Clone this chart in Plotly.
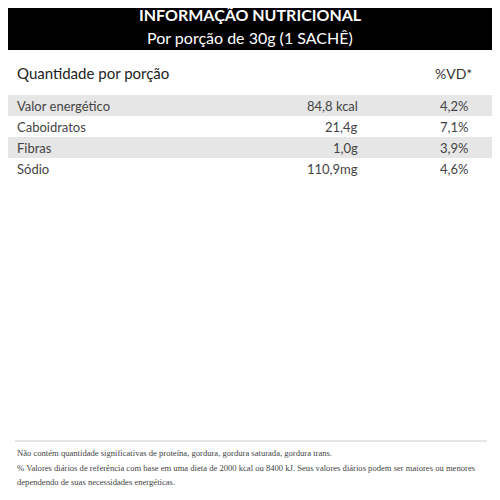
import plotly.graph_objects as go

title = "INFORMAÇÃO NUTRICIONAL"
subtitle = "Por porção de 30g (1 SACHÊ)"
header_left = "Quantidade por porção"
header_right = "%VD*"
nutrients = ["Valor energético", "Caboidratos", "Fibras", "Sódio"]
amounts = ["84,8 kcal", "21,4g", "1,0g", "110,9mg"]
vd = ["4,2%", "7,1%", "3,9%", "4,6%"]
footnotes = [
    "Não contém quantidade significativas de proteína, gordura, gordura saturada, gordura trans.",
    "% Valores diários de referência com base em uma dieta de 2000 kcal ou 8400 kJ. Seus valores diários podem ser maiores ou menores",
    "dependendo de suas necessidades energéticas.",
]

fig = go.Figure()
shapes = [dict(type="rect", x0=-10, x1=520, y0=-10, y1=50, fillcolor="black", line_width=0, layer="below")]
ann = []
F = "Lato"
ann.append(dict(x=250, y=14, text="<b>" + title + "</b>", font=dict(family=F, size=16, color="white")))
ann.append(dict(x=250, y=37, text=subtitle, font=dict(family=F, size=16, color="white")))
ann.append(dict(x=15, y=73, text=header_left, xanchor="left", font=dict(family=F, size=15, color="#222")))
ann.append(dict(x=474, y=73, text=header_right, xanchor="right", font=dict(family=F, size=14, color="#333")))
rh = 21
for i, (n, a, v) in enumerate(zip(nutrients, amounts, vd)):
    top = 95 + rh * i
    yc = top + rh / 2
    if i % 2 == 0:
        shapes.append(dict(type="rect", x0=-10, x1=520, y0=top, y1=top + rh, fillcolor="#e6e6e6", line_width=0, layer="below"))
    ann.append(dict(x=15, y=yc, text=n, xanchor="left", font=dict(family=F, size=13, color="#444")))
    ann.append(dict(x=360, y=yc, text=a, xanchor="right", font=dict(family=F, size=13, color="#444")))
    ann.append(dict(x=470, y=yc, text=v, xanchor="right", font=dict(family=F, size=13, color="#444")))
shapes.append(dict(type="line", x0=15, x1=487, y0=441, y1=441, line=dict(color="#ccc", width=1)))
for j, t in enumerate(footnotes):
    ann.append(dict(x=15, y=453 + 14.5 * j, text=t, xanchor="left",
                    font=dict(family="Liberation Sans Narrow, Arial Narrow", size=8.6, color="#444")))
for a in ann:
    a.update(xref="x", yref="y", showarrow=False, yanchor="middle")
    a.setdefault("xanchor", "center")

fig.update_layout(width=500, height=500, margin=dict(l=0, r=0, t=0, b=0),
                  paper_bgcolor="white", plot_bgcolor="white", shapes=shapes, annotations=ann,
                  xaxis=dict(range=[8, 508], visible=False, fixedrange=True),
                  yaxis=dict(range=[508, 8], visible=False, fixedrange=True),
                  showlegend=False)
fig.write_html("out.html", config=dict(displayModeBar=False))
